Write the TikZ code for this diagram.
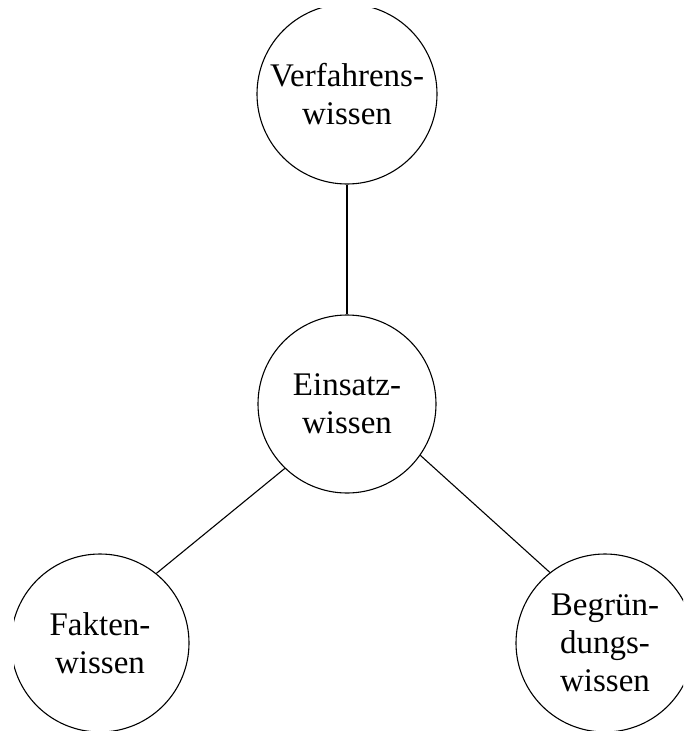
\documentclass[tikz,border=0pt]{standalone}
\usepackage{fontspec}
\setmainfont{Liberation Serif}
\begin{document}
\begin{tikzpicture}[x=1pt,y=-1pt,
  wcircle/.style={draw,circle,line width=1.1pt,minimum size=178pt,inner sep=0pt,align=center,
    font=\fontsize{33}{38}\selectfont},
  link/.style={line width=1.1pt}]
\useasboundingbox (0,0) rectangle (683,731);
\begin{scope}
\clip (14,8) rectangle (683,731);
\node[wcircle,minimum size=180pt] (V) at (347,94) {Verfahrens-\\wissen};
\node[wcircle] (E) at (347,404) {Einsatz-\\wissen};
\node[wcircle] (F) at (100,643) {Fakten-\\wissen};
\node[wcircle] (B) at (605,643) {Begrün-\\dungs-\\wissen};
\draw[link] (V.south) -- (E.north);
\draw[link] (E.226) -- (F.51);
\draw[link] (E.-35) -- (B.128);
\end{scope}
\end{tikzpicture}
\end{document}
